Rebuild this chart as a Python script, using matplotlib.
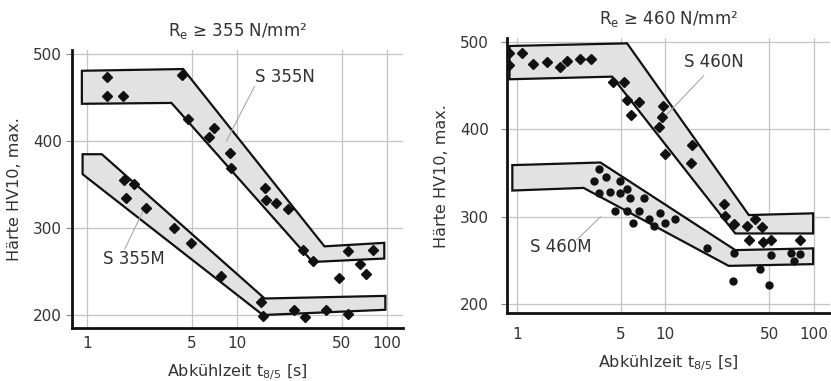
import matplotlib
matplotlib.use("Agg")
import matplotlib.pyplot as plt

plt.rcParams['font.family'] = ['DejaVu Sans']
plt.rcParams['mathtext.default'] = 'regular'

# ---------------- S 355 ----------------
band_355N_x = [0.92, 4.37, 38.4, 96.4, 96.4, 32.0, 3.65, 0.92]
band_355N_y = [481, 483, 279, 283, 265, 261, 444, 443]
band_355M_x = [0.93, 1.25, 15.3, 98.0, 98.0, 14.9, 0.93]
band_355M_y = [385, 385, 219, 222, 206, 200, 362]

pts_355N_x = [1.35, 1.35, 1.72, 4.32, 4.71, 7.03, 6.5, 9.0, 9.1, 15.3, 15.7,
              18.3, 21.9, 27.8, 32.0, 55.0, 80.7, 66.7, 73.0, 48.0]
pts_355N_y = [474, 452, 452, 476, 425, 415, 405, 386, 369, 346, 332,
              329, 322, 275, 262, 274, 275, 259, 247, 242]
pts_355M_x = [1.75, 2.06, 1.81, 2.46, 3.8, 4.96, 7.86, 14.5, 15.0, 24.2, 28.3, 39.4, 55.0]
pts_355M_y = [355, 351, 335, 323, 300, 283, 245, 215, 199, 206, 198, 206, 201]

# ---------------- S 460 ----------------
band_460N_x = [0.89, 5.52, 36.5, 99.0, 99.0, 29.6, 4.37, 0.89]
band_460N_y = [495, 498, 302, 304, 281, 281, 460, 457]
band_460M_x = [0.93, 3.65, 29.6, 99.0, 99.0, 26.7, 2.81, 0.93]
band_460M_y = [359, 362, 262, 264, 246, 244, 333, 330]

pts_460N_x = [0.88, 0.88, 1.08, 1.29, 1.59, 1.94, 2.17, 2.67, 3.17,
              4.44, 5.29, 5.52, 6.6, 5.87, 9.6, 9.45, 9.06, 9.95, 15.1, 14.9,
              25.0, 25.4, 28.9, 35.5, 40.0, 36.5, 44.8, 45.3, 51.6, 81.3]
pts_460N_y = [487, 473, 487, 475, 477, 471, 478, 480, 480,
              454, 454, 433, 431, 416, 427, 414, 403, 372, 382, 361,
              315, 301, 292, 290, 297, 274, 288, 271, 273, 273]
pts_460M_x = [3.59, 3.32, 3.55, 4.0, 4.25, 4.6, 4.92, 4.98, 5.52, 5.75, 5.52,
              6.05, 6.6, 7.14, 7.72, 8.34, 9.2, 9.9, 11.7, 19.1,
              28.9, 51.6, 70.0, 73.4, 81.3, 43.2, 49.7, 28.6]
pts_460M_y = [355, 341, 327, 346, 328, 307, 341, 327, 332, 321, 307,
              293, 307, 321, 298, 289, 304, 293, 298, 264,
              259, 256, 259, 249, 257, 240, 222, 227]

x_ticks = [1, 5, 10, 50, 100]
x_ticklabels = ['1', '5', '10', '50', '100']
y_ticks = [200, 300, 400, 500]

titles = ['R$_e$ \u2265 355 N/mm\u00b2', 'R$_e$ \u2265 460 N/mm\u00b2']
xlabel = 'Abkühlzeit t$_{8/5}$ [s]'
ylabel = 'Härte HV10, max.'

fig = plt.figure(figsize=(8.31, 3.81), dpi=100)
ax1 = fig.add_axes([0.0866, 0.139, 0.398, 0.730])
ax2 = fig.add_axes([0.610, 0.178, 0.389, 0.722])

FILL = '#e2e2e2'
INK = '#111111'


def style(ax, xlim, ylim, xpad, ypad):
    ax.set_xscale('log')
    ax.set_xlim(*xlim)
    ax.set_ylim(*ylim)
    ax.set_xticks(x_ticks)
    ax.set_xticklabels(x_ticklabels)
    ax.minorticks_off()
    ax.set_yticks(y_ticks)
    ax.grid(True, color='#c4c4c4', linewidth=0.9)
    ax.set_axisbelow(True)
    for s in ['top', 'right']:
        ax.spines[s].set_visible(False)
    for s in ['left', 'bottom']:
        ax.spines[s].set_linewidth(2.0)
        ax.spines[s].set_color(INK)
    ax.tick_params(axis='both', length=4, width=0.8, color='#888888',
                   labelsize=11, labelcolor='#333333')
    ax.tick_params(axis='x', length=0, pad=xpad)
    ax.tick_params(axis='y', pad=ypad)
    ax.set_xlabel(xlabel, fontsize=11.5, color='#333333', labelpad=8)
    ax.set_ylabel(ylabel, fontsize=11.5, color='#333333', labelpad=8)


def band(ax, xs, ys):
    ax.fill(xs, ys, facecolor=FILL, edgecolor=INK, linewidth=1.6, zorder=2)


# left panel
style(ax1, (0.79, 128), (185, 505), xpad=6, ypad=3)
band(ax1, band_355N_x, band_355N_y)
band(ax1, band_355M_x, band_355M_y)
ax1.plot(pts_355N_x, pts_355N_y, 'D', color=INK, ms=5.5, zorder=3)
ax1.plot(pts_355M_x, pts_355M_y, 'D', color=INK, ms=5, zorder=3)
ax1.plot([13.1, 8.5], [463, 400], color='#aaaaaa', lw=0.8, zorder=2.5)
ax1.plot([1.78, 2.49], [276, 328], color='#aaaaaa', lw=0.8, zorder=2.5)
ax1.text(13.1, 474, 'S 355N', fontsize=12, color='#333333', va='center')
ax1.text(1.28, 265, 'S 355M', fontsize=12, color='#333333', va='center')
ax1.set_title(titles[0], fontsize=12, color='#333333', pad=10)

# right panel
style(ax2, (0.855, 129), (190, 504), xpad=10, ypad=9)
band(ax2, band_460N_x, band_460N_y)
band(ax2, band_460M_x, band_460M_y)
ax2.plot(pts_460N_x, pts_460N_y, 'D', color=INK, ms=5.5, zorder=3)
ax2.plot(pts_460M_x, pts_460M_y, 'o', color=INK, ms=5, zorder=3)
ax2.plot([18.1, 10.0], [461, 415], color='#aaaaaa', lw=0.8, zorder=2.5)
ax2.plot([2.54, 3.65], [274, 300], color='#aaaaaa', lw=0.8, zorder=2.5)
ax2.text(13.3, 477, 'S 460N', fontsize=12, color='#333333', va='center')
ax2.text(1.23, 266, 'S 460M', fontsize=12, color='#333333', va='center')
ax2.set_title(titles[1], fontsize=12, color='#333333', pad=10)

fig.savefig('out.png', dpi=100)
